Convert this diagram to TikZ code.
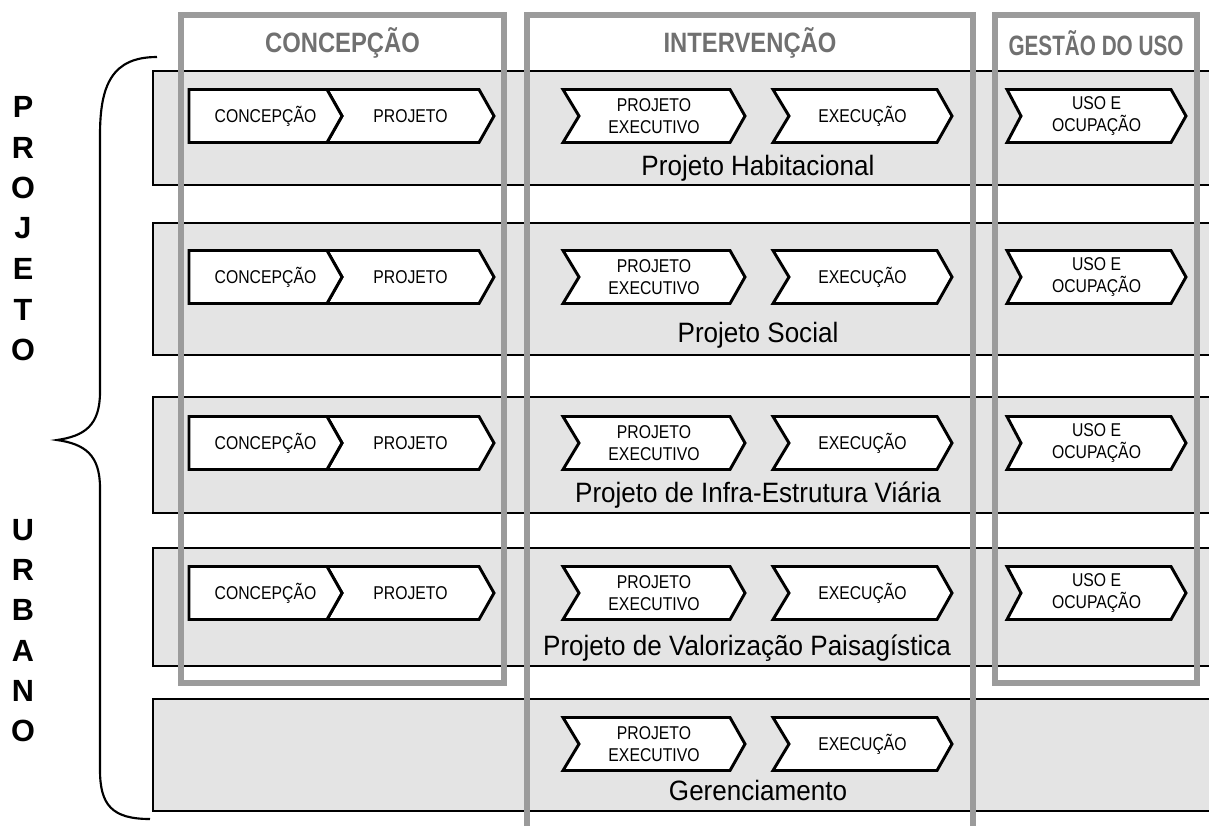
\documentclass[tikz,border=0pt]{standalone}
\usepackage{fontspec}
\setmainfont{Liberation Sans}
\newfontfamily\narrowfont[FakeStretch=0.85]{Liberation Sans}
\newfontfamily\labelfont[FakeStretch=0.93]{Liberation Sans}
\newfontfamily\tightfont[FakeStretch=0.74]{Liberation Sans}
\usetikzlibrary{positioning}
\definecolor{bandgray}{RGB}{228,228,228}
\definecolor{framegray}{RGB}{155,155,155}
\definecolor{headgray}{RGB}{112,112,112}
\tikzset{
  rowBand/.style={
    fill=bandgray
  },
  rowEdge/.style={
    draw=black,
    line width=2pt
  },
  phaseFrame/.style={
    draw=framegray,
    line width=4.2pt
  },
  chevShape/.style={
    fill=white,
    draw=black,
    line width=2.2pt,
    line join=miter
  },
  chevText/.style={
    font=\narrowfont\fontsize{13.9}{16.5}\selectfont,
    align=center,
    inner sep=0pt
  },
  phaseHead/.style={
    font=\narrowfont\bfseries\fontsize{21}{24}\selectfont,
    text=headgray,
    inner sep=0pt
  },
  rowLabel/.style={
    font=\labelfont\fontsize{21}{24}\selectfont,
    anchor=base,
    inner sep=0pt
  },
  bigLetter/.style={
    font=\bfseries\fontsize{23}{26}\selectfont,
    inner sep=0pt
  }
}
% name, left x, tip x, middle y, notch depth, text
\newcommand{\phasechev}[6]{%
  \draw[chevShape] (#2,#4-26.5) -- (#3-15,#4-26.5) -- (#3,#4)
    -- (#3-15,#4+26.5) -- (#2,#4+26.5) -- (#2+#5,#4) -- cycle;
  \node[chevText] (#1) at ({(#2+#3)/2},#4) {#6};
}
\begin{document}
\begin{tikzpicture}[x=0.75pt,y=-0.75pt]
  \useasboundingbox (0,0) rectangle (1209,825);

  % row bands
  \foreach \top/\bot in {71/185,223/355,397/513,548/666,699/811}{
    \fill[rowBand] (153,\top) rectangle (1215,\bot);
    \draw[rowEdge] (1215,\top) -- (153,\top) -- (153,\bot) -- (1215,\bot);
  }

  % phase frames
  \draw[phaseFrame] (181,15) rectangle (504,683);
  \draw[phaseFrame] (527,830) -- (527,15) -- (973,15) -- (973,830);
  \draw[phaseFrame] (995,15) rectangle (1197,683);

  \node[phaseHead] (headConcep) at (342.5,43) {CONCEPÇÃO};
  \node[phaseHead] (headInterv) at (750,43) {INTERVENÇÃO};
  \node[phaseHead, font=\tightfont\bfseries\fontsize{21}{24}\selectfont]
    (headGestao) at (1096,43) {GESTÃO DO USO};

  % steps in each row
  \foreach \y [count=\r] in {116,277,443,593}{
    \phasechev{projStep\r}{327}{494}{\y}{15}{PROJETO}
    \phasechev{concepStep\r}{189}{342}{\y}{0}{CONCEPÇÃO}
    \phasechev{usoStep\r}{1007}{1186}{\y}{14}{USO E\\OCUPAÇÃO}
  }
  \foreach \y [count=\r] in {116,277,443,593,744}{
    \phasechev{execProj\r}{563}{745}{\y}{16}{PROJETO\\EXECUTIVO}
    \phasechev{execStep\r}{773}{952}{\y}{16}{EXECUÇÃO}
  }

  \node[rowLabel] (labelHab) at (758,175) {Projeto Habitacional};
  \node[rowLabel] (labelSoc) at (758,342) {Projeto Social};
  \node[rowLabel] (labelInfra) at (758,502) {Projeto de Infra-Estrutura Viária};
  \node[rowLabel] (labelPais) at (747,655) {Projeto de Valorização Paisagística};
  \node[rowLabel] (labelGer) at (758,800) {Gerenciamento};

  % side title and brace
  \foreach \ch [count=\i from 0] in {P,R,O,J,E,T,O}{
    \node[bigLetter] (topLetter\i) at (23,107+40.5*\i) {\ch};
  }
  \foreach \ch [count=\i from 0] in {U,R,B,A,N,O}{
    \node[bigLetter] (lowLetter\i) at (23,530+40.2*\i) {\ch};
  }
  \draw[line width=1.6pt] (157,57) .. controls (112,57) and (100,85) .. (100,135)
    -- (100,392) .. controls (100,425) and (85,436) .. (57,440)
    .. controls (85,444) and (100,455) .. (100,488)
    -- (100,770) .. controls (100,805) and (112,819) .. (150,819);
\end{tikzpicture}
\end{document}
